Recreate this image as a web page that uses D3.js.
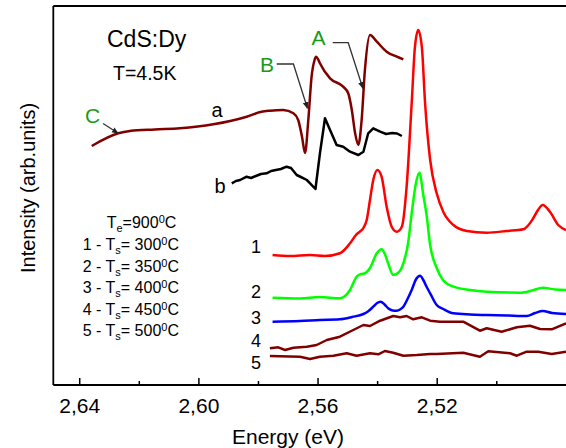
<!DOCTYPE html>
<html><head><meta charset="utf-8">
<script src="https://cdn.jsdelivr.net/npm/d3@7"></script>
<style>
body{margin:0;background:#fff;}
text{font-family:"Liberation Sans",Arial,sans-serif;}
</style></head>
<body><svg id="c" width="566" height="448"></svg>
<script>
// Energy (eV), intensity (arb. units)
const curveA = [[2.6358,239],[2.6269,251.7],[2.6230,254],[2.6146,255.5],[2.6062,256.7],[2.5950,260.7],[2.5838,268.3],[2.5788,273.3],[2.5760,274.3],[2.5715,275],[2.5681,271.7],[2.5665,265],[2.5652,248],[2.5642,232],[2.5631,265],[2.5620,308.3],[2.5610,325],[2.5605,328.3],[2.5598,325.7],[2.5592,321.7],[2.5558,306.7],[2.5514,298.3],[2.5497,291.7],[2.5485,275],[2.5474,252],[2.5463,240],[2.5452,265],[2.5441,315],[2.5424,350],[2.5401,343.3],[2.5368,333.3],[2.5334,328.3],[2.5312,325.7]];
const curveB = [[2.5888,201.7],[2.5874,204],[2.5860,205],[2.5838,208.3],[2.5823,207],[2.5807,209],[2.5790,211],[2.5771,211.7],[2.5756,214],[2.5740,215],[2.5723,216],[2.5704,218.3],[2.5689,217],[2.5670,210],[2.5656,208],[2.5636,205],[2.5625,201.7],[2.5607,196],[2.5592,231.7],[2.5575,266.7],[2.5558,255],[2.5536,240],[2.5514,238.3],[2.5491,233.3],[2.5463,230],[2.5446,233.3],[2.5430,251.7],[2.5413,256.7],[2.5390,253.3],[2.5370,251],[2.5350,252],[2.5333,251.5],[2.5317,249]];
const curve1 = [[2.5751,130],[2.5693,129],[2.5625,130],[2.5575,129],[2.5525,131.7],[2.5491,141.7],[2.5471,150],[2.5458,153.3],[2.5446,157],[2.5435,165],[2.5424,185],[2.5413,205],[2.5399,215],[2.5385,208.3],[2.5368,178.3],[2.5351,158.3],[2.5334,153.3],[2.5317,158.3],[2.5301,198.3],[2.5284,281.7],[2.5273,338.3],[2.5262,355],[2.5250,338.3],[2.5239,281.7],[2.5222,225],[2.5200,191.7],[2.5178,173.3],[2.5144,160],[2.5099,154],[2.5032,152.3],[2.4965,154],[2.4909,155.7],[2.4876,166.7],[2.4860,175],[2.4844,180],[2.4820,173.3],[2.4792,160],[2.4766,155]];
const curve2 = [[2.5751,87.3],[2.5659,86.5],[2.5592,88],[2.5525,86.7],[2.5491,95],[2.5469,108.3],[2.5454,111],[2.5441,111.7],[2.5424,117],[2.5401,131.7],[2.5385,135.7],[2.5374,131],[2.5363,121.7],[2.5346,110],[2.5330,112],[2.5312,121.7],[2.5296,142],[2.5284,171.7],[2.5269,203],[2.5258,212.3],[2.5245,190],[2.5234,170],[2.5222,140],[2.5200,117],[2.5179,105],[2.5144,98.3],[2.5088,95],[2.5032,93.3],[2.4920,92.3],[2.4880,94.5],[2.4844,97.3],[2.4803,95.5],[2.4766,95]];
const curve3 = [[2.5751,63.3],[2.5659,64],[2.5592,65],[2.5525,65.7],[2.5484,68],[2.5446,71],[2.5431,73.5],[2.5413,78.3],[2.5400,82],[2.5388,83.3],[2.5375,80.5],[2.5363,76.7],[2.5348,74.5],[2.5334,74.3],[2.5323,75.5],[2.5312,78.3],[2.5298,86],[2.5284,95],[2.5269,106],[2.5256,109.3],[2.5245,105],[2.5234,98.3],[2.5222,91.7],[2.5200,80],[2.5178,76],[2.5144,71.7],[2.5088,70.5],[2.5032,70],[2.4964,69.5],[2.4898,69],[2.4870,72],[2.4844,74],[2.4813,72],[2.4766,71]];
const curve4 = [[2.5760,36.7],[2.5732,37.7],[2.5709,35],[2.5681,37.3],[2.5636,38.3],[2.5603,40],[2.5569,45],[2.5525,48.3],[2.5480,55],[2.5446,60],[2.5424,59],[2.5390,64.3],[2.5346,69],[2.5323,67.7],[2.5301,69],[2.5279,65.7],[2.5250,67.7],[2.5222,64.3],[2.5189,63.3],[2.5111,63.3],[2.5055,54.3],[2.5032,56.7],[2.4982,53.3],[2.4931,57.7],[2.4887,59.3],[2.4853,56],[2.4814,55.7],[2.4766,61.7]];
const curve5 = [[2.5760,29],[2.5659,28.3],[2.5625,26],[2.5592,28.3],[2.5547,29.3],[2.5502,31.7],[2.5469,29.3],[2.5424,31.7],[2.5396,30.7],[2.5374,34],[2.5346,32.3],[2.5312,29.3],[2.5267,30],[2.5222,31],[2.5200,31],[2.5111,32.3],[2.5055,28.3],[2.5027,33.7],[2.4954,31.7],[2.4931,29.3],[2.4898,33.3],[2.4859,33.3],[2.4814,31],[2.4766,33.3]];

const majorTicks = [2.64, 2.60, 2.56, 2.52];
const minorTicks = [2.62, 2.58, 2.54, 2.50];
const xDomain = [2.6487, 2.4766];
const yDomain = [0, 379];

const curveLabels = ["1","2","3","4","5"];
const legendTemps = ["300","350","400","450","500"];

// annotation arrows in data space
const arrowC = [[2.6320,261.5],[2.6269,251.7]];
const arrowB = [[2.5737,321],[2.5681,321],[2.5634,276.7]];
const arrowA = [[2.5549,342.3],[2.5497,342.3],[2.5448,296.7]];

const svg = d3.select("#c");
const L = 53.3, R = 566, T = 6, B = 385;
const x = d3.scaleLinear().domain(xDomain).range([L, R]);
const y = d3.scaleLinear().domain(yDomain).range([B, T]);

const darkRed = "#800000", green = "#1a9a1a";

const smooth = d3.line().x(d=>x(d[0])).y(d=>y(d[1])).curve(d3.curveMonotoneX);
const jag = d3.line().x(d=>x(d[0])).y(d=>y(d[1]));

const series = [
  {d:curve5, c:darkRed, g:jag},
  {d:curve4, c:darkRed, g:jag},
  {d:curve3, c:"#0000ff", g:smooth},
  {d:curve2, c:"#00ff00", g:smooth},
  {d:curve1, c:"#ff0000", g:smooth},
  {d:curveB, c:"#000000", g:jag},
  {d:curveA, c:darkRed, g:smooth}
];
series.forEach(s=>{
  svg.append("path").attr("d", s.g(s.d)).attr("fill","none")
    .attr("stroke", s.c).attr("stroke-width", 2.5).attr("stroke-linejoin","round");
});

// frame
svg.append("line").attr("x1",L).attr("x2",L).attr("y1",T).attr("y2",B).attr("stroke","#000").attr("stroke-width",1.8);
svg.append("line").attr("x1",L).attr("x2",R).attr("y1",T).attr("y2",T).attr("stroke","#000").attr("stroke-width",1.8);

// bottom axis
const ax = svg.append("g").attr("transform",`translate(0,${B})`)
  .call(d3.axisBottom(x).tickValues(majorTicks).tickSizeInner(-7).tickSizeOuter(0).tickPadding(13)
    .tickFormat(d=>d3.format(".2f")(d).replace(".",",")));
ax.select(".domain").remove();
ax.selectAll(".tick line").attr("stroke-width",1.5);
ax.selectAll("text").attr("font-size",21).attr("font-family","Liberation Sans, Arial").attr("fill","#000");
svg.append("g").attr("transform",`translate(0,${B})`)
  .call(d3.axisBottom(x).tickValues(minorTicks).tickSizeInner(-4).tickSizeOuter(0).tickFormat(""))
  .call(g=>{g.select(".domain").remove(); g.selectAll(".tick line").attr("stroke-width",1.5);});
svg.append("line").attr("x1",L).attr("x2",R).attr("y1",B).attr("y2",B).attr("stroke","#000").attr("stroke-width",1.8);

// axis titles
svg.append("text").attr("x",288).attr("y",444).attr("text-anchor","middle").attr("font-size",21).text("Energy (eV)");
svg.append("text").attr("transform","translate(35,188) rotate(-90)").attr("text-anchor","middle").attr("font-size",20).text("Intensity (arb.units)");

// arrows
svg.append("defs").append("marker").attr("id","ah").attr("viewBox","0 0 10 10").attr("refX",9).attr("refY",5)
  .attr("markerWidth",7).attr("markerHeight",7).attr("markerUnits","userSpaceOnUse").attr("orient","auto")
  .append("path").attr("d","M0,1 L10,5 L0,9 Z").attr("fill","#222");
[arrowC, arrowB, arrowA].forEach(a=>{
  svg.append("path").attr("d", jag(a)).attr("fill","none").attr("stroke","#333").attr("stroke-width",1.3)
    .attr("marker-end","url(#ah)");
});

// annotation text
svg.append("text").attr("x",107).attr("y",46.5).attr("font-size",23).text("CdS:Dy");
svg.append("text").attr("x",113).attr("y",80).attr("font-size",19.5).text("T=4.5K");
svg.append("text").attr("x",85).attr("y",123).attr("font-size",21).attr("fill",green).text("C");
svg.append("text").attr("x",260).attr("y",71.7).attr("font-size",21).attr("fill",green).text("B");
svg.append("text").attr("x",311.5).attr("y",45).attr("font-size",21).attr("fill",green).text("A");
svg.append("text").attr("x",211.5).attr("y",116.7).attr("font-size",20).text("a");
svg.append("text").attr("x",214.5).attr("y",193.3).attr("font-size",20).text("b");

const numY = [253, 298, 324, 347, 369];
curveLabels.forEach((t,i)=>{
  svg.append("text").attr("x",251).attr("y",numY[i]).attr("font-size",18).text(t);
});

// legend block
const leg = svg.append("g").attr("font-size",16);
const t0 = leg.append("text").attr("x",106.7).attr("y",228.3);
t0.append("tspan").text("T");
t0.append("tspan").attr("font-size",11).attr("dy",4).text("e");
t0.append("tspan").attr("dy",-4).text("=900");
t0.append("tspan").attr("font-size",11).attr("dy",-5).text("0");
t0.append("tspan").attr("dy",5).text("C");
legendTemps.forEach((v,i)=>{
  const t = leg.append("text").attr("x",82.7).attr("y",250+i*21.5);
  t.append("tspan").text(curveLabels[i]+" - T");
  t.append("tspan").attr("font-size",11).attr("dy",4).text("s");
  t.append("tspan").attr("dy",-4).text("= "+v);
  t.append("tspan").attr("font-size",11).attr("dy",-5).text("0");
  t.append("tspan").attr("dy",5).text("C");
});
</script></body></html>
